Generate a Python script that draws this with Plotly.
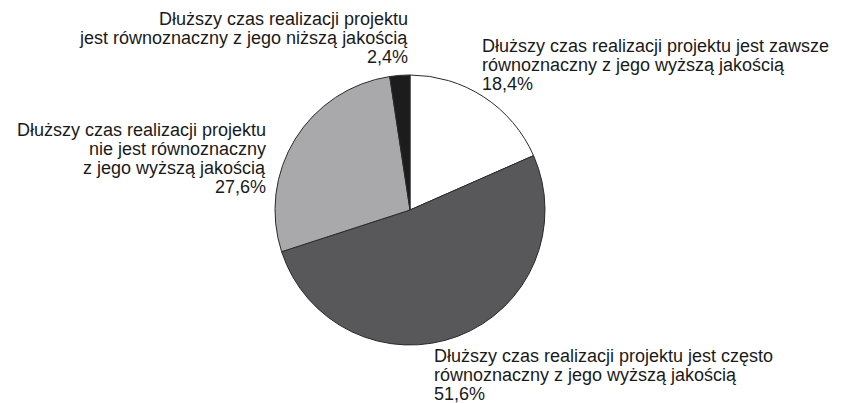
import plotly.graph_objects as go

W, H = 841, 403

labels = [
    "Dłuższy czas realizacji projektu jest zawsze<br>równoznaczny z jego wyższą jakością",
    "Dłuższy czas realizacji projektu jest często<br>równoznaczny z jego wyższą jakością",
    "Dłuższy czas realizacji projektu<br>nie jest równoznaczny<br>z jego wyższą jakością",
    "Dłuższy czas realizacji projektu<br>jest równoznaczny z jego niższą jakością",
]
values = [18.4, 51.6, 27.6, 2.4]
colors = ["#ffffff", "#58585a", "#a9a9ab", "#1c1c1c"]

# label placement in pixels: anchor x, first line center y, side
label_pos = [
    (480, 46, "left"),
    (432, 356, "left"),
    (268, 130, "right"),
    (410, 19, "right"),
]
LINE_H = 19


def fmt(v):
    return f"{v:.1f}".replace(".", ",") + "%"


fig = go.Figure(go.Pie(
    labels=labels,
    values=values,
    sort=False,
    direction="clockwise",
    rotation=0,
    marker=dict(colors=colors, line=dict(color="#2a2a2a", width=1)),
    textinfo="none",
    hoverinfo="label+percent",
    domain=dict(x=[275 / W, 545 / W], y=[(H - 345) / H, (H - 75) / H]),
))

annotations = []
for lab, v, (px, py, side) in zip(labels, values, label_pos):
    lines = lab.split("<br>") + [fmt(v)]
    for i, line in enumerate(lines):
        annotations.append(dict(
            text=line,
            x=px / W, y=1 - (py + i * LINE_H) / H,
            xref="paper", yref="paper",
            xanchor=side, yanchor="middle",
            showarrow=False,
            font=dict(family="Liberation Sans, Arial, sans-serif", size=18, color="#1a1a1a"),
        ))

fig.update_layout(
    width=W, height=H,
    margin=dict(l=0, r=0, t=0, b=0),
    showlegend=False,
    paper_bgcolor="white",
    plot_bgcolor="white",
    annotations=annotations,
)

fig.write_html("out.html", config={"displayModeBar": False},
               post_script="document.body.style.margin='0';")
